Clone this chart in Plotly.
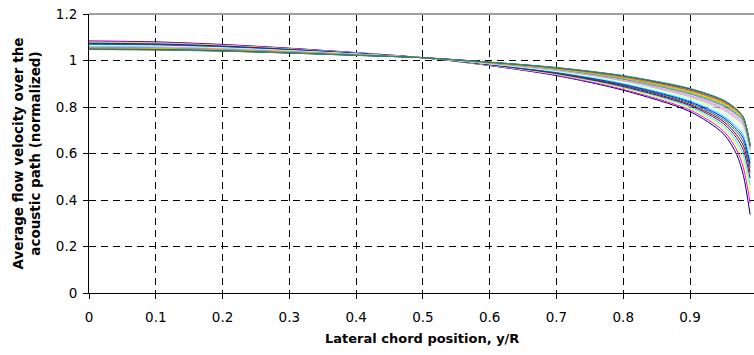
import plotly.graph_objects as go

# Lateral chord positions y/R
chord_pos = [0, 0.1, 0.2, 0.3, 0.4, 0.5, 0.6, 0.7, 0.8, 0.9, 0.95, 0.97, 0.98, 0.99]

# Normalized chord-averaged velocity, one list per profile (series 1 .. 26)
v01 = [1.084, 1.080, 1.069, 1.053, 1.034, 1.012, 0.978, 0.935, 0.872, 0.780, 0.685, 0.595, 0.505, 0.337]
v02 = [1.081, 1.078, 1.067, 1.052, 1.033, 1.012, 0.979, 0.937, 0.876, 0.787, 0.697, 0.615, 0.538, 0.387]
v03 = [1.079, 1.075, 1.065, 1.050, 1.032, 1.012, 0.980, 0.940, 0.881, 0.794, 0.709, 0.634, 0.566, 0.429]
v04 = [1.077, 1.073, 1.063, 1.049, 1.032, 1.012, 0.981, 0.942, 0.885, 0.800, 0.719, 0.650, 0.592, 0.465]
v05 = [1.074, 1.071, 1.062, 1.048, 1.031, 1.012, 0.982, 0.944, 0.888, 0.806, 0.729, 0.666, 0.614, 0.494]
v06 = [1.072, 1.069, 1.060, 1.046, 1.030, 1.012, 0.983, 0.946, 0.892, 0.811, 0.738, 0.679, 0.633, 0.519]
v07 = [1.070, 1.067, 1.058, 1.045, 1.030, 1.012, 0.984, 0.948, 0.895, 0.817, 0.746, 0.692, 0.650, 0.540]
v08 = [1.069, 1.065, 1.057, 1.044, 1.029, 1.012, 0.984, 0.950, 0.898, 0.822, 0.754, 0.703, 0.665, 0.557]
v09 = [1.067, 1.064, 1.056, 1.043, 1.028, 1.012, 0.985, 0.951, 0.901, 0.826, 0.761, 0.713, 0.678, 0.572]
v10 = [1.065, 1.062, 1.054, 1.042, 1.028, 1.012, 0.986, 0.953, 0.904, 0.831, 0.768, 0.723, 0.690, 0.584]
v11 = [1.064, 1.061, 1.053, 1.041, 1.027, 1.012, 0.986, 0.954, 0.907, 0.835, 0.774, 0.731, 0.700, 0.594]
v12 = [1.062, 1.059, 1.052, 1.041, 1.027, 1.012, 0.987, 0.956, 0.909, 0.839, 0.780, 0.739, 0.709, 0.603]
v13 = [1.061, 1.058, 1.051, 1.040, 1.026, 1.012, 0.987, 0.957, 0.912, 0.843, 0.786, 0.746, 0.717, 0.610]
v14 = [1.059, 1.057, 1.050, 1.039, 1.026, 1.012, 0.988, 0.958, 0.914, 0.847, 0.791, 0.752, 0.724, 0.616]
v15 = [1.058, 1.056, 1.049, 1.038, 1.026, 1.012, 0.989, 0.960, 0.916, 0.850, 0.796, 0.758, 0.730, 0.620]
v16 = [1.057, 1.054, 1.048, 1.038, 1.025, 1.012, 0.989, 0.961, 0.918, 0.853, 0.800, 0.763, 0.735, 0.624]
v17 = [1.056, 1.053, 1.047, 1.037, 1.025, 1.012, 0.990, 0.962, 0.920, 0.857, 0.805, 0.768, 0.739, 0.627]
v18 = [1.055, 1.052, 1.046, 1.036, 1.024, 1.012, 0.990, 0.963, 0.922, 0.860, 0.809, 0.772, 0.743, 0.629]
v19 = [1.054, 1.051, 1.045, 1.036, 1.024, 1.012, 0.990, 0.964, 0.924, 0.863, 0.812, 0.776, 0.746, 0.631]
v20 = [1.052, 1.050, 1.044, 1.035, 1.024, 1.012, 0.991, 0.965, 0.926, 0.865, 0.816, 0.779, 0.749, 0.633]
v21 = [1.051, 1.049, 1.044, 1.035, 1.023, 1.012, 0.991, 0.966, 0.927, 0.868, 0.819, 0.782, 0.751, 0.634]
v22 = [1.050, 1.048, 1.043, 1.034, 1.023, 1.012, 0.992, 0.967, 0.929, 0.871, 0.821, 0.784, 0.752, 0.634]
v23 = [1.050, 1.047, 1.042, 1.033, 1.023, 1.012, 0.992, 0.968, 0.931, 0.873, 0.824, 0.787, 0.754, 0.635]
v24 = [1.049, 1.047, 1.041, 1.033, 1.023, 1.012, 0.992, 0.968, 0.932, 0.876, 0.827, 0.788, 0.754, 0.635]
v25 = [1.048, 1.046, 1.041, 1.032, 1.022, 1.012, 0.993, 0.969, 0.934, 0.878, 0.829, 0.789, 0.755, 0.635]
v26 = [1.047, 1.045, 1.040, 1.032, 1.022, 1.012, 0.993, 0.970, 0.935, 0.880, 0.830, 0.790, 0.755, 0.635]

series_values = [v01, v02, v03, v04, v05, v06, v07, v08, v09, v10, v11, v12, v13,
                 v14, v15, v16, v17, v18, v19, v20, v21, v22, v23, v24, v25, v26]

series_colors = ["#000080", "#FF00FF", "#FFFF00", "#00FFFF", "#800080", "#800000",
                 "#008080", "#0000FF", "#00CCFF", "#CCFFFF", "#CCFFCC", "#FFFF99",
                 "#99CCFF", "#FF99CC", "#CC99FF", "#FFCC99", "#3366FF", "#33CCCC",
                 "#99CC00", "#FFCC00", "#FF9900", "#FF6600", "#666699", "#969696",
                 "#003366", "#339966"]

x_ticks = [0, 0.1, 0.2, 0.3, 0.4, 0.5, 0.6, 0.7, 0.8, 0.9]
x_tick_text = ["0", "0.1", "0.2", "0.3", "0.4", "0.5", "0.6", "0.7", "0.8", "0.9"]
y_ticks = [0, 0.2, 0.4, 0.6, 0.8, 1.0, 1.2]
y_tick_text = ["0", "0.2", "0.4", "0.6", "0.8", "1", "1.2"]

FONT = "DejaVu Sans, Liberation Sans, Arial, sans-serif"

fig = go.Figure()
for vals, col in zip(series_values, series_colors):
    fig.add_trace(go.Scatter(
        x=chord_pos, y=vals, mode="lines",
        line=dict(color=col, width=1, shape="spline", smoothing=0.8),
        showlegend=False, hoverinfo="skip", cliponaxis=False,
    ))

fig.update_layout(
    width=754, height=355,
    margin=dict(l=89, r=0, t=14, b=62, autoexpand=False),
    paper_bgcolor="white", plot_bgcolor="white",
    font=dict(family=FONT, size=13.5, color="black"),
    xaxis=dict(
        range=[0, 0.9958], tickmode="array", tickvals=x_ticks, ticktext=x_tick_text,
        showline=True, linecolor="black", linewidth=1,
        ticks="outside", ticklen=5, tickcolor="black",
        showgrid=True, gridcolor="black", gridwidth=1, griddash="7px,5px",
        zeroline=False, ticklabelstandoff=7, automargin=False,
        ticklabeloverflow="allow",
    ),
    yaxis=dict(
        range=[0, 1.2], tickmode="array", tickvals=y_ticks, ticktext=y_tick_text,
        showline=True, linecolor="black", linewidth=1,
        ticks="outside", ticklen=5, tickcolor="black",
        showgrid=True, gridcolor="black", gridwidth=1, griddash="7px,5px",
        zeroline=False, ticklabelstandoff=3, automargin=False,
        ticklabeloverflow="allow",
    ),
    shapes=[dict(type="line", xref="paper", yref="paper", x0=0, x1=1, y0=1, y1=1,
                 line=dict(color="#a0a0a0", width=2), layer="above")],
    annotations=[
        dict(text="<b>Lateral chord position, y/R</b>", xref="paper", yref="paper",
             x=0.5, y=-45 / 279, xanchor="center", yanchor="middle", showarrow=False,
             font=dict(family=FONT, size=13)),
        dict(text="<b>Average flow velocity over the<br>acoustic path (normalized)</b>",
             xref="paper", yref="paper", x=-63 / 665, y=0.5, textangle=-90,
             xanchor="center", yanchor="middle", showarrow=False,
             font=dict(family=FONT, size=13.5)),
    ],
)

# Remove the browser's default body margin so the figure fills the window.
fig.write_html(
    "out.html",
    config={"displayModeBar": False, "staticPlot": True},
    post_script="document.body.style.margin='0px';document.body.style.overflow='hidden';",
)
